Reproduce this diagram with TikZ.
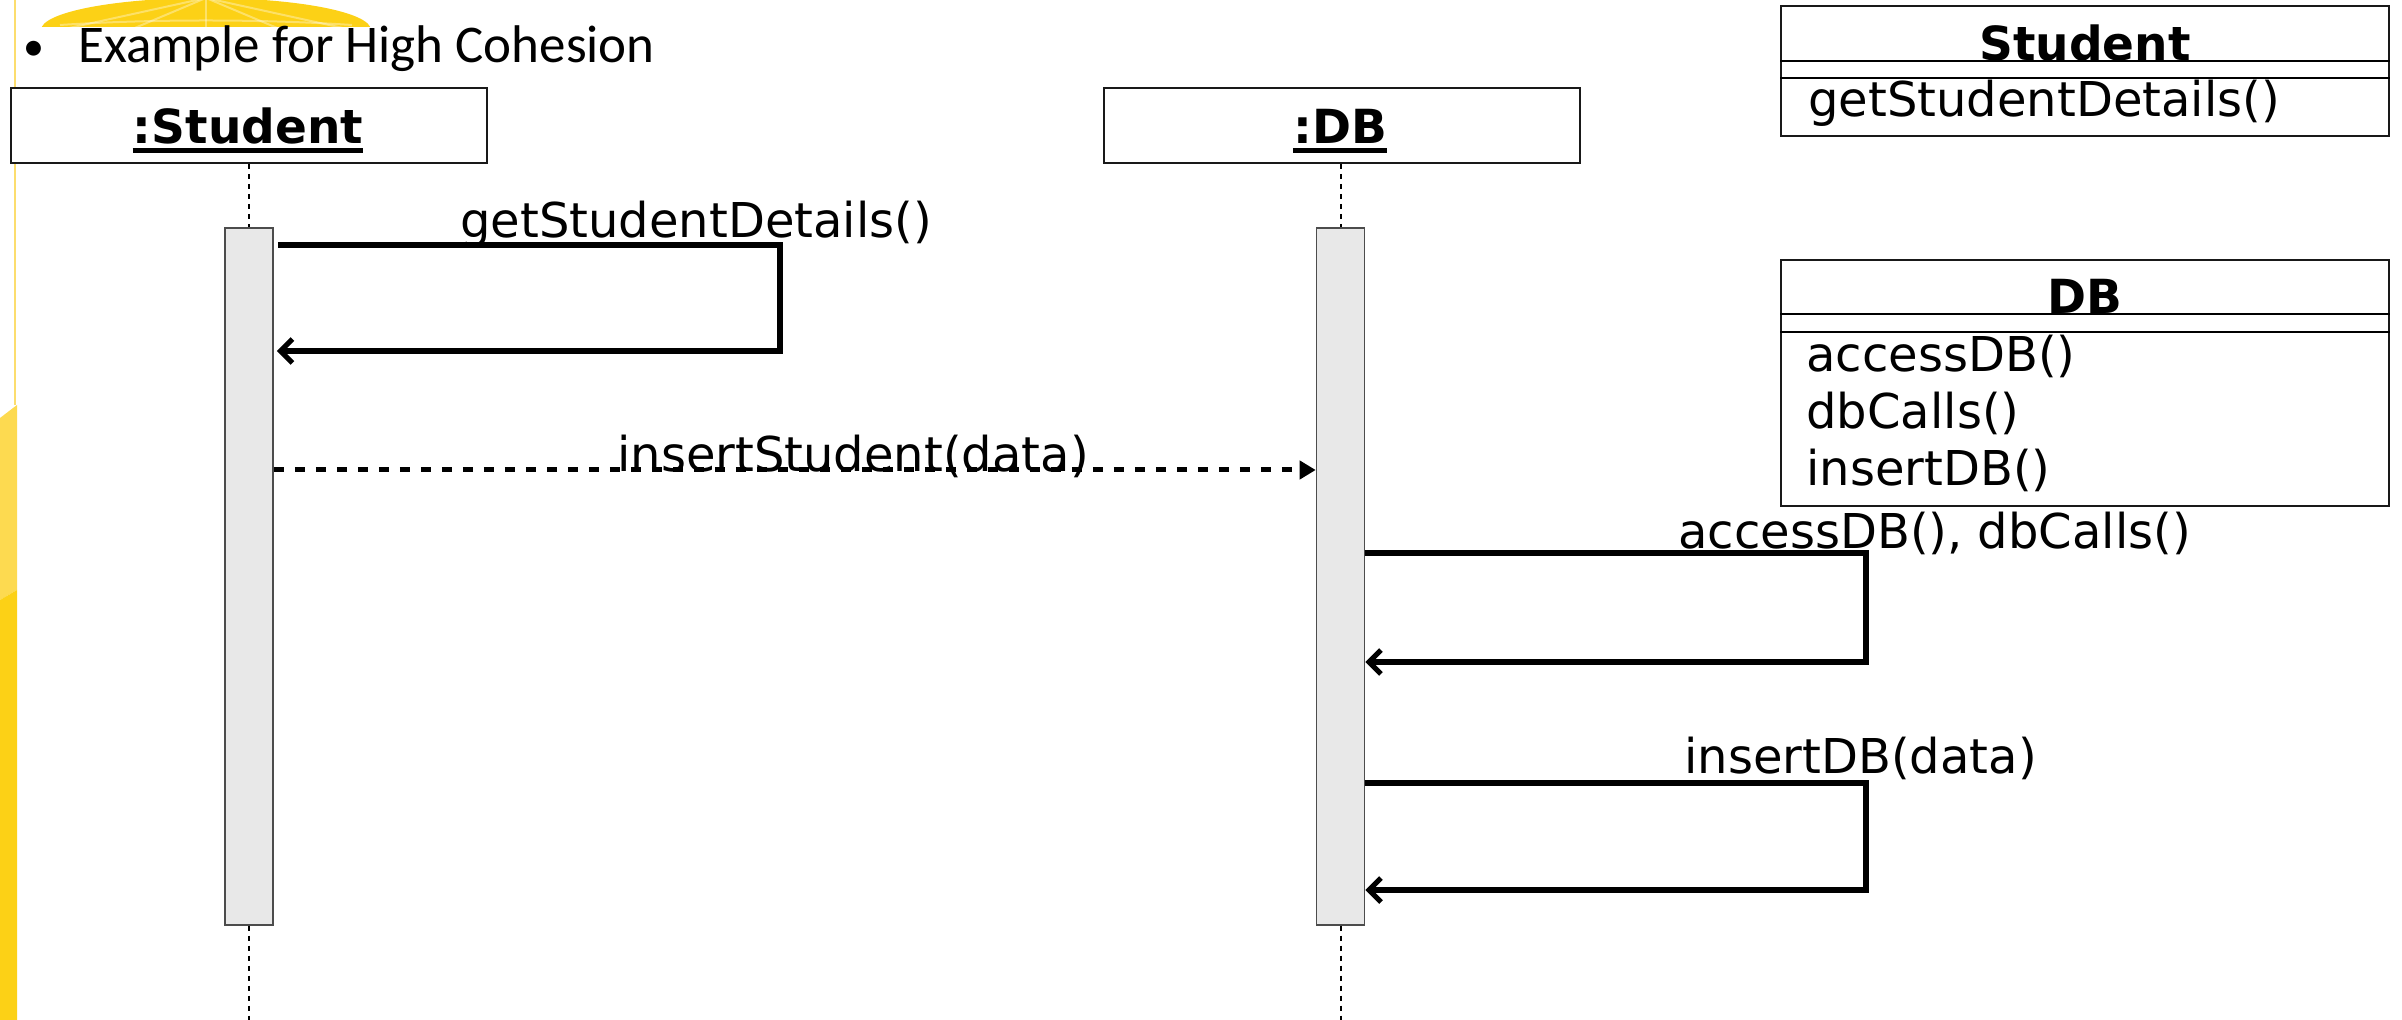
\documentclass[tikz,border=0pt]{standalone}
\usepackage{fontspec}
\setmainfont{DejaVu Sans}
\newfontfamily\titlefont{Carlito}
\usetikzlibrary{arrows.meta}

\definecolor{sunyellow}{HTML}{FCD116}
\definecolor{paleyellow}{HTML}{FDDA50}
\definecolor{thinyellow}{HTML}{FCDD6E}
\definecolor{barfill}{HTML}{E8E8E8}

\begin{document}
\begin{tikzpicture}[x=0.5pt,y=-0.5pt,
  lifebox/.style={draw=black!90, line width=1pt, fill=white, minimum width=238pt,
    minimum height=37.5pt, inner sep=0pt, anchor=north west},
  actbar/.style={draw=black!70, line width=0.8pt, fill=barfill, minimum width=24pt,
    minimum height=348.5pt, inner sep=0pt, anchor=north},
  lifeline/.style={line width=1pt, dash pattern=on 2.5pt off 2.5pt},
  selfcall/.style={line width=2.6pt, line join=miter,
    -{Straight Barb[length=6pt,width=12pt]}},
  asyncmsg/.style={line width=2.5pt, dash pattern=on 5pt off 5.5pt,
    -{Triangle[length=8pt,width=9pt]}},
  msglabel/.style={anchor=base west, inner sep=0pt, font=\fontsize{24}{28}\selectfont},
  objname/.style={anchor=base, inner sep=0pt, font=\bfseries\fontsize{23.5}{28}\selectfont},
  classbox/.style={draw=black!90, line width=1pt, minimum width=304pt, inner sep=0pt,
    anchor=north west},
  underbar/.style={line width=2.5pt}
]
\useasboundingbox (0,0) rectangle (2402,1020);

% ---- slide decoration: sun dome at the top, band down the left edge
\begin{scope}
  \clip (0,0) rectangle (420,27);
  \fill[sunyellow] (206,30) ellipse [x radius=165, y radius=32];
  \foreach \tx in {60,130,206,282,352}
    \draw[white, opacity=0.35, line width=1pt] (206,-2) -- (\tx,30);
  \draw[white, opacity=0.35, line width=1pt] (60,25) .. controls (150,19) and (262,19) .. (352,25);
\end{scope}
\draw[thinyellow, line width=1pt] (15,0) -- (15,405);
\fill[paleyellow] (0,418) -- (17,405) -- (17,590) -- (0,600) -- cycle;
\fill[sunyellow] (0,600) -- (17,590) -- (17,1020) -- (0,1020) -- cycle;

% ---- heading
\node[anchor=base, inner sep=0pt, font=\titlefont\fontsize{21}{24}\selectfont]
  (bullet) at (34,61) {•};
\node[anchor=base west, inner sep=0pt, font=\titlefont\fontsize{26.5}{30}\selectfont]
  (title) at (78,63) {Example for High Cohesion};

% ---- object heads
\node[lifebox] (hS) at (10,87) {};
\node[lifebox] (hD) at (1103,87) {};
\node[objname] (nS) at (248,144) {:Student};
\node[objname] (nD) at (1340,144) {:DB};
\draw[underbar] ([yshift=-3.5pt]nS.base west) -- ([yshift=-3.5pt]nS.base east);
\draw[underbar] ([yshift=-3.5pt]nD.base west) -- ([yshift=-3.5pt]nD.base east);

% ---- activation bars
\node[actbar] (aS) at (249,227) {};
\node[actbar] (aD) at (1340.5,227) {};

% ---- lifelines
\coordinate (endS) at (249,1020);
\coordinate (endD) at (1340.5,1020);
\draw[lifeline] (hS.south -| aS.north) -- (aS.north);
\draw[lifeline] (aS.south) -- (endS);
\draw[lifeline] (hD.south -| aD.north) -- (aD.north);
\draw[lifeline] (aD.south) -- (endD);

% ---- messages
\coordinate (m1a) at (780,245);
\coordinate (m1b) at (780,351);
\draw[selfcall] ([xshift=2pt]aS.east |- m1a) -- (m1a) -- (m1b) -- ([xshift=1.5pt]aS.east |- m1b);
\node[msglabel] (l1) at (460,238) {getStudentDetails()};

\coordinate (m2) at (0,470);
\draw[asyncmsg] (aS.east |- m2) -- (aD.west |- m2);
\node[msglabel] (l2) at (617,472) {insertStudent(data)};

\coordinate (m3a) at (1866,553);
\coordinate (m3b) at (1866,662);
\draw[selfcall] (aD.east |- m3a) -- (m3a) -- (m3b) -- (aD.east |- m3b);
\node[msglabel] (l3) at (1678,549) {accessDB(), dbCalls()};

\coordinate (m4a) at (1866,783);
\coordinate (m4b) at (1866,890);
\draw[selfcall] (aD.east |- m4a) -- (m4a) -- (m4b) -- (aD.east |- m4b);
\node[msglabel] (l4) at (1684,773) {insertDB(data)};

% ---- class Student
\node[classbox, minimum height=65pt] (cS) at (1780,5) {};
\draw[line width=1pt] (cS.west |- 0,61) -- (cS.east |- 0,61);
\draw[line width=1pt] (cS.west |- 0,78) -- (cS.east |- 0,78);
\node[objname] (cSn) at (2085,61) {Student};
\node[msglabel] (cSo) at (1808,117) {getStudentDetails()};

% ---- class DB
\node[classbox, minimum height=123pt] (cD) at (1780,259) {};
\draw[line width=1pt] (cD.west |- 0,314) -- (cD.east |- 0,314);
\draw[line width=1pt] (cD.west |- 0,332) -- (cD.east |- 0,332);
\node[objname] (cDn) at (2085,314) {DB};
\node[msglabel] (cDo1) at (1806,372) {accessDB()};
\node[msglabel] (cDo2) at (1806,429) {dbCalls()};
\node[msglabel] (cDo3) at (1806,486) {insertDB()};
\end{tikzpicture}
\end{document}
